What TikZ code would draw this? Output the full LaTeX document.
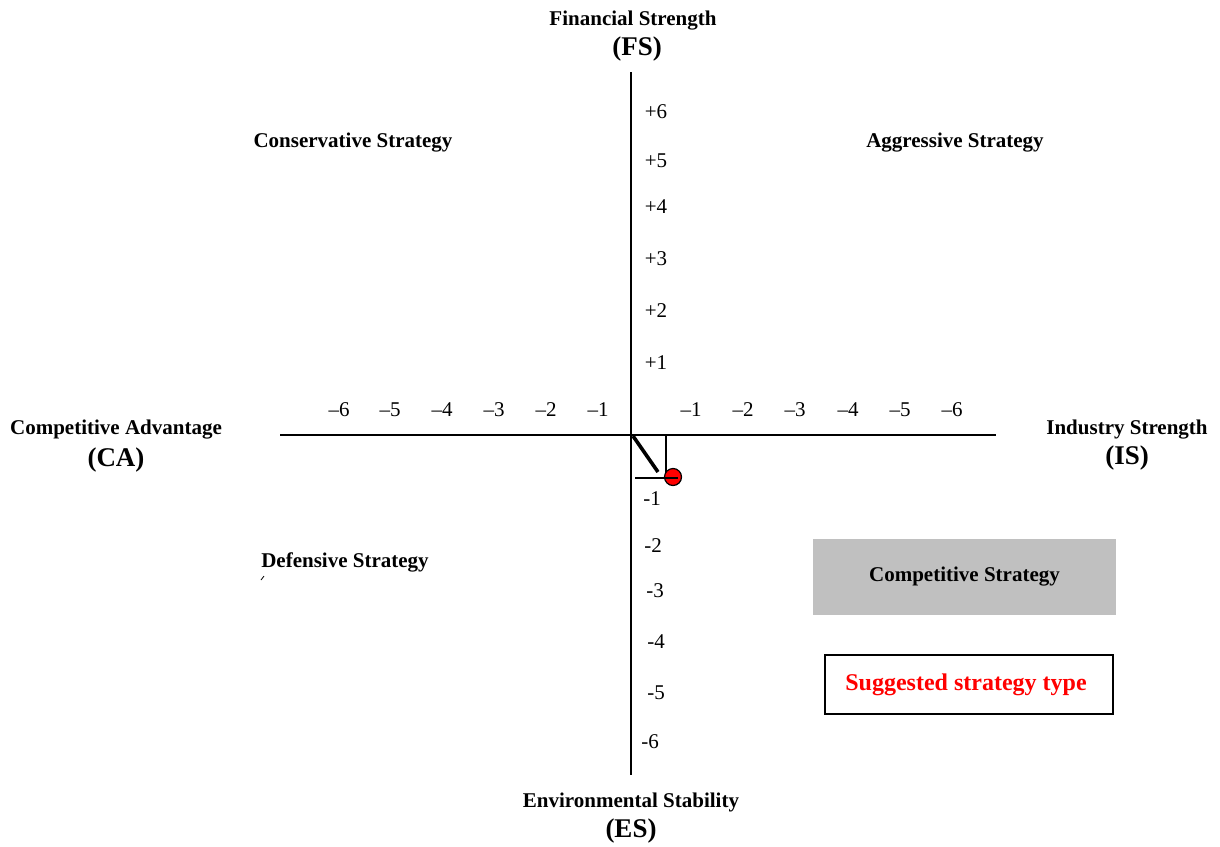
\documentclass[tikz,border=0pt]{standalone}
\usepackage{fontspec}
\setmainfont{Liberation Serif}
\usepackage{xcolor}
\definecolor{boxgray}{RGB}{192,192,192}

\begin{document}
\begin{tikzpicture}[x=0.5pt,y=-0.5pt,
  axislabel/.style={font=\fontsize{10.5}{12}\selectfont\bfseries,inner sep=0pt,yshift=-1pt},
  axisabbr/.style={font=\fontsize{13.5}{15}\selectfont\bfseries,inner sep=0pt,yshift=-1pt},
  quadrant/.style={font=\fontsize{10.5}{12}\selectfont\bfseries,inner sep=0pt,yshift=-1pt},
  tick/.style={font=\fontsize{10.5}{12}\selectfont,inner sep=0pt,yshift=-1pt}]
\useasboundingbox (0,0) rectangle (1220,846);

% axes
\coordinate (top) at (631,72);
\coordinate (bottom) at (631,775);
\coordinate (left) at (280,435);
\coordinate (right) at (996,435);
\coordinate (origin) at (631,435);
\draw[line width=0.8pt] (top) -- (bottom);
\draw[line width=0.8pt] (left) -- (right);

% axis names
\node [axislabel] (fs) at (633,19) {Financial Strength};
\node [axisabbr] (fsa) at (637,47) {(FS)};
\node [axislabel] (ca) at (116,428) {Competitive Advantage};
\node [axisabbr] (caa) at (116,458) {(CA)};
\node [axislabel] (is) at (1127,428) {Industry Strength};
\node [axisabbr] (isa) at (1127,456) {(IS)};
\node [axislabel] (es) at (631,800) {Environmental Stability};
\node [axisabbr] (esa) at (631,829) {(ES)};

% quadrants
\node [quadrant] (cons) at (353,141) {Conservative Strategy};
\node [quadrant] (aggr) at (955,141) {Aggressive Strategy};
\node [quadrant] (def) at (345,560) {Defensive Strategy};
\draw[line width=0.4pt] (261,580) -- (264,576);

% tick labels
\foreach \x/\t in {339/6,390/5,442/4,494/3,546/2,598/1,691/1,743/2,795/3,848/4,900/5,952/6}
  \node [tick] (tx\x) at (\x,408) {--\t};
\foreach \y/\t in {110/6,159/5,205/4,257/3,309/2,361/1}
  \node [tick] (ty\t) at (656,\y) {+\t};
\foreach \y/\t/\x in {497/1/652,544/2/653,589/3/655,640/4/656,691/5/656,740/6/650}
  \node [tick] (tn\t) at (\x,\y) {-\t};

% position of the point
\coordinate (px) at (666,435);
\coordinate (pc) at (666,478);
\coordinate (py) at (635,478);
\coordinate (pe) at (678,478);
\coordinate (ds) at (633,436);
\coordinate (de) at (658,472);
\draw[line width=0.6pt] (px) -- (pc);
\draw[line width=1.8pt] (ds) -- (de);
\node [circle,draw,line width=0.6pt,fill=red,minimum size=8.5pt,inner sep=0pt] (pt) at (673,477) {};
\draw[line width=0.6pt] (py) -- (pe);

% result boxes
\node [quadrant,fill=boxgray,minimum width=151.5pt,minimum height=38pt,yshift=1pt] (comp) at (964.5,577) {\raisebox{-1pt}{Competitive Strategy}};
\node [draw,line width=0.6pt,minimum width=144pt,minimum height=29.5pt,inner sep=0pt,
  font=\fontsize{12}{14}\selectfont\bfseries,text=red] (sugg) at (969,684.5) {\hspace*{-3pt}\raisebox{-1pt}{Suggested strategy type}};
\end{tikzpicture}
\end{document}
